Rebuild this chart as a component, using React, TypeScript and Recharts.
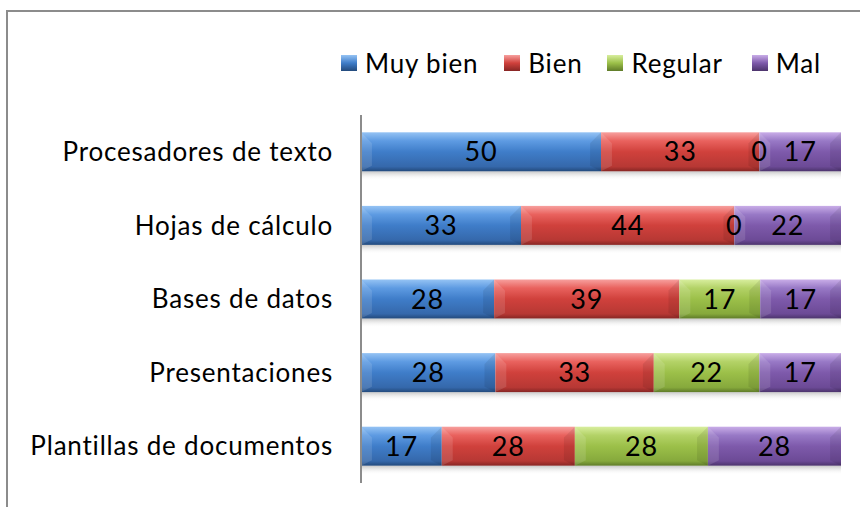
import React from "react";
import { BarChart, Bar, XAxis, YAxis, Legend, LabelList } from "recharts";

const categories = [
  "Procesadores de texto",
  "Hojas de cálculo",
  "Bases de datos",
  "Presentaciones",
  "Plantillas de documentos",
];
const muyBien = [50, 33, 28, 28, 17];
const bien = [33, 44, 39, 33, 28];
const regular = [0, 0, 17, 22, 28];
const mal = [17, 22, 17, 17, 28];

const seriesNames = ["Muy bien", "Bien", "Regular", "Mal"];
const seriesKeys = ["muyBien", "bien", "regular", "mal"];

const data = categories.map((name, i) => ({
  name,
  muyBien: muyBien[i],
  bien: bien[i],
  regular: regular[i],
  mal: mal[i],
}));

const palettes: Record<string, string[]> = {
  muyBien: ["#95C3F4", "#5E9BE2", "#3F7DC9", "#3568AB", "#234A7C"],
  bien: ["#F7A09E", "#E9625E", "#D0413C", "#B73834", "#872624"],
  regular: ["#D8EE9E", "#B3D267", "#9CC049", "#86A93C", "#5F7B29"],
  mal: ["#C9ADE8", "#9879C6", "#7E5AAB", "#6C4A96", "#4C346C"],
};

const FONT = "Lato, 'Open Sans', sans-serif";
const LS = 0.8;

const Gradients = () => (
  <defs>
    {seriesKeys.map((k) => (
      <linearGradient key={k} id={`g-${k}`} x1="0" y1="0" x2="0" y2="1">
        <stop offset="0" stopColor={palettes[k][0]} />
        <stop offset="0.22" stopColor={palettes[k][1]} />
        <stop offset="0.5" stopColor={palettes[k][2]} />
        <stop offset="0.88" stopColor={palettes[k][3]} />
        <stop offset="1" stopColor={palettes[k][4]} />
      </linearGradient>
    ))}
    <linearGradient id="g-shadow" x1="0" y1="0" x2="0" y2="1">
      <stop offset="0" stopColor="#9a9a9a" stopOpacity="0.55" />
      <stop offset="1" stopColor="#ffffff" stopOpacity="0" />
    </linearGradient>
  </defs>
);

const makeShape = (key: string) => (props: any) => {
  const { x, y, width, height } = props;
  if (!width || width <= 0) return <g />;
  const b = Math.min(height * 0.28, width / 2);
  return (
    <g>
      <rect x={x} y={y + height} width={width} height={9} fill="url(#g-shadow)" />
      <rect x={x} y={y} width={width} height={height} fill={`url(#g-${key})`} />
      <polygon
        points={`${x},${y} ${x + b},${y + b} ${x + b},${y + height - b * 0.5} ${x},${y + height}`}
        fill="#ffffff"
        fillOpacity={0.12}
      />
      <polygon
        points={`${x + width},${y} ${x + width - b},${y + b} ${x + width - b},${y + height - b * 0.5} ${x + width},${y + height}`}
        fill="#000000"
        fillOpacity={0.08}
      />
    </g>
  );
};

const LegendContent = () => (
  <div style={{ display: "flex", alignItems: "center", fontFamily: FONT, fontSize: 26, letterSpacing: LS, color: "#000", lineHeight: "30px" }}>
    {seriesKeys.map((k, i) => (
      <div key={k} style={{ display: "flex", alignItems: "center", marginRight: i === 0 ? 26 : i === 2 ? 29 : 25 }}>
        <svg width={16} height={16} style={{ marginRight: 8, flex: "none" }}>
          <defs>
            <linearGradient id={`lg-${k}`} x1="0" y1="0" x2="0" y2="1">
              <stop offset="0" stopColor={palettes[k][0]} />
              <stop offset="0.5" stopColor={palettes[k][2]} />
              <stop offset="1" stopColor={palettes[k][4]} />
            </linearGradient>
          </defs>
          <rect x={0} y={0} width={16} height={16} fill={`url(#lg-${k})`} />
        </svg>
        <span>{seriesNames[i]}</span>
      </div>
    ))}
  </div>
);

export default function App() {
  return (
    <div style={{ position: "absolute", left: 0, top: 0, width: 860, height: 507, background: "#fff", overflow: "hidden" }}>
      <div
        style={{
          position: "absolute",
          left: 6,
          top: 10,
          width: 900,
          height: 600,
          borderTop: "2px solid #8c8c8c",
          borderLeft: "2px solid #8c8c8c",
        }}
      />
      <div style={{ position: "absolute", left: 0, top: 0 }}>
        <BarChart
          width={860}
          height={507}
          data={data}
          layout="vertical"
          stackOffset="expand"
          barCategoryGap="23.5%"
          margin={{ top: 115, right: 19, bottom: 24, left: 0 }}
        >
          <Gradients />
          <XAxis type="number" hide domain={[0, 1]} />
          <YAxis
            type="category"
            dataKey="name"
            width={361}
            tickLine={false}
            tickSize={0}
            tickMargin={28}
            axisLine={{ stroke: "#8c8c8c", strokeWidth: 2 }}
            tick={{ fontSize: 26, fill: "#000", fontFamily: FONT, letterSpacing: LS }}
          />
          <Legend
            layout="horizontal"
            verticalAlign="middle"
            align="center"
            content={<LegendContent />}
            wrapperStyle={{ top: 48, left: 341, width: 519 }}
          />
          {seriesKeys.map((k, i) => (
            <Bar
              key={k}
              dataKey={k}
              name={seriesNames[i]}
              stackId="a"
              isAnimationActive={false}
              fill={palettes[k][2]}
              shape={makeShape(k)}
            >
              <LabelList
                dataKey={k}
                position="center"
                fill="#000"
                fontSize={27}
                fontFamily={FONT}
                letterSpacing={LS}
              />
            </Bar>
          ))}
        </BarChart>
      </div>
    </div>
  );
}
